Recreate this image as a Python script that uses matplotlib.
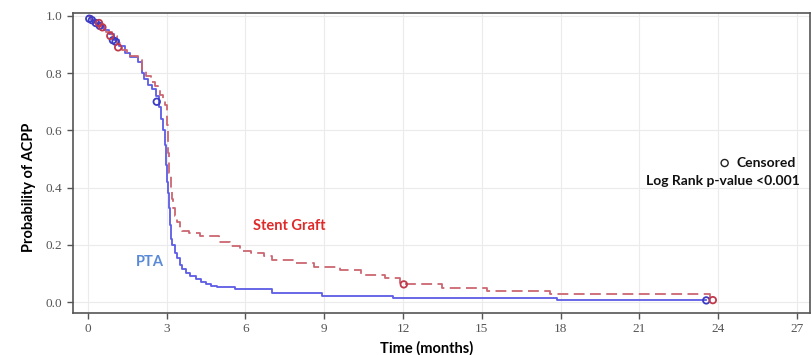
import matplotlib
matplotlib.use("Agg")
import matplotlib.pyplot as plt
import numpy as np

# Kaplan-Meier step curves: event times (months) and survival after each step
pta_t = [0, 0.1, 0.25, 0.4, 0.6, 0.8, 1.0, 1.2, 1.4, 1.6, 1.9, 2.05, 2.15, 2.3, 2.45,
         2.6, 2.7, 2.8, 2.86, 2.92, 2.96, 3.0, 3.04, 3.08, 3.12, 3.16, 3.2, 3.3, 3.4,
         3.5, 3.6, 3.75, 3.9, 4.1, 4.3, 4.5, 4.7, 4.9, 5.6, 7.0, 8.9, 11.6, 17.85]
pta_s = [1.0, 0.985, 0.975, 0.965, 0.95, 0.935, 0.915, 0.895, 0.87, 0.855, 0.84, 0.80,
         0.78, 0.76, 0.745, 0.72, 0.68, 0.64, 0.60, 0.55, 0.48, 0.42, 0.38, 0.33, 0.27,
         0.22, 0.20, 0.17, 0.155, 0.13, 0.115, 0.10, 0.09, 0.08, 0.07, 0.063, 0.057,
         0.053, 0.045, 0.031, 0.021, 0.013, 0.006]
pta_end = 23.55

sg_t = [0, 0.15, 0.35, 0.5, 0.7, 0.9, 1.1, 1.3, 1.5, 1.9, 2.05, 2.2, 2.4, 2.55, 2.65,
        2.75, 2.85, 2.95, 3.0, 3.05, 3.1, 3.15, 3.2, 3.25, 3.3, 3.4, 3.5, 3.6, 3.85,
        4.25, 5.0, 5.4, 5.8, 6.2, 6.7, 7.0, 7.9, 8.6, 9.6, 10.4, 11.3, 11.9, 13.5,
        15.2, 17.6, 23.7]
sg_s = [1.0, 0.985, 0.975, 0.96, 0.945, 0.93, 0.905, 0.88, 0.86, 0.845, 0.81, 0.79,
        0.77, 0.755, 0.74, 0.725, 0.71, 0.69, 0.62, 0.52, 0.45, 0.40, 0.36, 0.33, 0.30,
        0.28, 0.26, 0.25, 0.24, 0.23, 0.21, 0.195, 0.18, 0.17, 0.16, 0.147, 0.135,
        0.123, 0.112, 0.094, 0.083, 0.062, 0.05, 0.04, 0.027, 0.007]
sg_end = 23.8

# Censored observations
pta_cens_t = [0.05, 0.15, 0.3, 0.45, 0.95, 1.05, 2.62, 23.55]
pta_cens_s = [0.99, 0.985, 0.975, 0.965, 0.915, 0.91, 0.70, 0.006]
sg_cens_t = [0.42, 0.55, 0.85, 1.15, 12.03, 23.8]
sg_cens_s = [0.975, 0.96, 0.93, 0.89, 0.062, 0.007]

x_ticks = [0, 3, 6, 9, 12, 15, 18, 21, 24, 27]
y_ticks = [0.0, 0.2, 0.4, 0.6, 0.8, 1.0]

PTA_LINE = "#5c5ce6"
PTA_MARK = "#3b3bc4"
SG_LINE = "#cc6670"
SG_MARK = "#c03a4c"

fig = plt.figure(figsize=(8.12, 3.55), dpi=100)
ax = fig.add_axes([0.0899, 0.1183, 0.9076, 0.8451])

ax.step(pta_t + [pta_end], pta_s + [pta_s[-1]], where="post",
        color=PTA_LINE, lw=1.3, zorder=3)
ax.step(sg_t + [sg_end], sg_s + [sg_s[-1]], where="post",
        color=SG_LINE, lw=1.3, ls=(0, (6, 3)), zorder=3)

ax.scatter(pta_cens_t, pta_cens_s, s=22, facecolors="none",
           edgecolors=PTA_MARK, linewidths=1.3, zorder=4)
ax.scatter(sg_cens_t, sg_cens_s, s=22, facecolors="none",
           edgecolors=SG_MARK, linewidths=1.3, zorder=4)

ax.set_xlim(-0.57, 27.5)
ax.set_ylim(-0.038, 1.01)
ax.set_xticks(x_ticks)
ax.set_yticks(y_ticks)
ax.set_yticklabels([f"{v:.1f}" for v in y_ticks])
ax.grid(True, color="#ebebeb", lw=0.8, zorder=0)
ax.set_axisbelow(True)

for side in ["left", "bottom", "top", "right"]:
    ax.spines[side].set_color("#555555")
    ax.spines[side].set_linewidth(1.2)
ax.tick_params(direction="out", length=4, width=1.0, color="#555555",
               labelsize=9.5, labelcolor="#555555")
for lab in ax.get_xticklabels() + ax.get_yticklabels():
    lab.set_family(["Liberation Serif", "DejaVu Serif"])

ax.set_xlabel("Time (months)", family="Lato", fontweight="bold", fontsize=10.5)
ax.set_ylabel("Probability of ACPP", family="Lato", fontweight="bold", fontsize=10.5)
ax.xaxis.set_label_coords(0.48, -0.095)
ax.yaxis.set_label_coords(-0.05, 0.42)

ax.text(2.36, 0.14, "PTA", color="#5a8ad6", family="Lato", fontweight="bold",
        fontsize=10.5, ha="center", va="center")
ax.text(7.65, 0.266, "Stent Graft", color="#e02a2a", family="Lato",
        fontweight="bold", fontsize=10.5, ha="center", va="center")

ax.scatter([24.25], [0.486], s=26, facecolors="none", edgecolors="#222222",
           linewidths=1.0, zorder=5)
ax.text(24.7, 0.486, "Censored", color="#111111", family="Lato", fontweight="bold",
        fontsize=10, ha="left", va="center")
ax.text(27.1, 0.423, "Log Rank p-value <0.001", color="#111111", family="Lato",
        fontweight="bold", fontsize=10, ha="right", va="center")

fig.savefig("out.png", dpi=100)
